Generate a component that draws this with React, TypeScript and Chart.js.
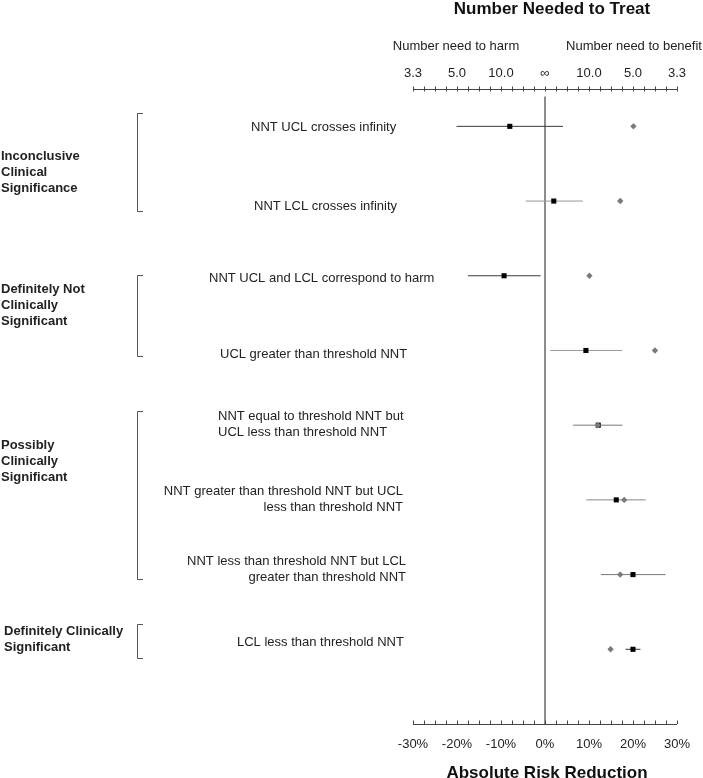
import React, { useEffect, useRef } from "react";
import { Chart, registerables } from "chart.js";

Chart.register(...registerables);

// ---------- data ----------
const rowLabels: string[][] = [
  ["NNT UCL crosses infinity"],
  ["NNT LCL crosses infinity"],
  ["NNT UCL and LCL correspond to harm"],
  ["UCL greater than threshold NNT"],
  ["NNT equal to threshold NNT but", "UCL less than threshold NNT"],
  ["NNT greater than threshold NNT but UCL", "less than threshold NNT"],
  ["NNT less than threshold NNT but LCL", "greater than threshold NNT"],
  ["LCL less than threshold NNT"],
];
const groupLabels: string[][] = [
  ["Inconclusive", "Clinical", "Significance"],
  ["Definitely Not", "Clinically", "Significant"],
  ["Possibly", "Clinically", "Significant"],
  ["Definitely Clinically", "Significant"],
];
const groupRows: number[][] = [
  [1, 2],
  [3, 4],
  [5, 7],
  [8, 8],
];
// absolute risk reduction (%) per row
const arrEstimate = [-8.0, 2.0, -9.3, 9.3, 12.1, 16.2, 20.0, 20.0];
const arrLower = [-20.1, -4.4, -17.5, 1.2, 6.4, 9.4, 12.7, 18.3];
const arrUpper = [4.1, 8.6, -1.0, 17.6, 17.6, 22.9, 27.4, 21.7];
const arrThreshold = [20.1, 17.1, 10.1, 25.0, 12.0, 18.0, 17.1, 14.9];

const arrTicks = [-30, -20, -10, 0, 10, 20, 30];
const arrTickLabels = ["-30%", "-20%", "-10%", "0%", "10%", "20%", "30%"];
const nntTickLabels = ["3.3", "5.0", "10.0", "\u221E", "10.0", "5.0", "3.3"];

// ---------- styles / layout ----------
const ciColors = ["#3a3a3a", "#9a9a9a", "#3a3a3a", "#9a9a9a", "#777777", "#888888", "#777777", "#3a3a3a"];
// per-row label layout: [x, align, dy of first line]
const rowLabelLayout: [number, CanvasTextAlign, number][] = [
  [251, "left", 1],
  [254, "left", 5],
  [209, "left", 3],
  [220, "left", 4],
  [218, "left", -9],
  [403, "right", -8],
  [406, "right", -13],
  [237, "left", -7],
];
const bracketOffsets: [number, number][] = [
  [-13, 10],
  [-1, 6],
  [-14, 4],
  [-25, 9],
];
const groupLabelDy = [-45, -61, -129, -18];
const FONT = "Arial, 'Liberation Sans', sans-serif";

const decorPlugin = {
  id: "decor",
  afterDraw(chart: any) {
    const ctx: CanvasRenderingContext2D = chart.ctx;
    const xs = chart.scales.x;
    const ys = chart.scales.y;
    const { top, bottom } = chart.chartArea;
    ctx.save();
    // minor ticks
    ctx.strokeStyle = "#444";
    ctx.lineWidth = 1;
    for (let v = -30; v <= 30.001; v += 2.5) {
      const px = Math.round(xs.getPixelForValue(v)) + 0.5;
      ctx.beginPath();
      ctx.moveTo(px, bottom);
      ctx.lineTo(px, bottom - 3.5);
      ctx.moveTo(px, top - 2.5);
      ctx.lineTo(px, top + 2.5);
      ctx.stroke();
    }
    // titles
    const cx = (xs.getPixelForValue(-30) + xs.getPixelForValue(30)) / 2;
    ctx.fillStyle = "#111";
    ctx.textAlign = "center";
    ctx.textBaseline = "alphabetic";
    ctx.font = "bold 17px " + FONT;
    ctx.fillText("Number Needed to Treat", cx + 7, 14);
    ctx.fillText("Absolute Risk Reduction", cx + 2, 778);
    ctx.font = "13px " + FONT;
    ctx.fillStyle = "#222";
    ctx.fillText("Number need to harm", 456, 50);
    ctx.fillText("Number need to benefit", 634, 50);

    // row labels
    ctx.textBaseline = "middle";
    rowLabels.forEach((lines, i) => {
      const [x, align, dy] = rowLabelLayout[i];
      const y0 = ys.getPixelForValue(i + 1) + dy;
      ctx.textAlign = align;
      lines.forEach((ln, j) => ctx.fillText(ln, x, y0 + j * 16));
    });

    // brackets and group labels
    ctx.strokeStyle = "#555";
    ctx.lineWidth = 1;
    groupRows.forEach((rows, g) => {
      const yTop = Math.round(ys.getPixelForValue(rows[0]) + bracketOffsets[g][0]) + 0.5;
      const yBot = Math.round(ys.getPixelForValue(rows[1]) + bracketOffsets[g][1]) + 0.5;
      ctx.beginPath();
      ctx.moveTo(143, yTop);
      ctx.lineTo(137.5, yTop);
      ctx.lineTo(137.5, yBot);
      ctx.lineTo(143, yBot);
      ctx.stroke();
      ctx.font = "bold 13px " + FONT;
      ctx.textAlign = "left";
      const gy = ys.getPixelForValue(rows[1]) + groupLabelDy[g];
      groupLabels[g].forEach((ln, j) => ctx.fillText(ln, g === 3 ? 4 : 1, gy + j * 16));
      ctx.font = "13px " + FONT;
    });
    ctx.restore();
  },
};

export default function App() {
  const ref = useRef<HTMLCanvasElement | null>(null);
  useEffect(() => {
    if (!ref.current) return;
    const rows = arrEstimate.map((_, i) => i + 1);
    const ciSets = rows.map((y, i) => ({
      type: "scatter" as const,
      data: [
        { x: arrLower[i], y },
        { x: arrUpper[i], y },
      ],
      showLine: true,
      borderColor: ciColors[i],
      borderWidth: 1,
      pointRadius: 0,
    }));
    const chart = new Chart(ref.current, {
      type: "scatter",
      data: {
        datasets: [
          {
            data: arrThreshold.map((x, i) => ({ x, y: rows[i] })),
            pointStyle: "rectRot",
            pointRadius: 3.2,
            backgroundColor: "#7a7a7a",
            borderColor: "#7a7a7a",
            borderWidth: 0,
          },
          {
            data: arrEstimate.map((x, i) => ({ x, y: rows[i] })),
            pointStyle: "rect",
            pointRadius: 3.6,
            backgroundColor: "#000",
            borderColor: "#000",
            borderWidth: 0,
          },
          ...ciSets,
          {
            data: [
              { x: 0, y: 0.6 },
              { x: 0, y: 9 },
            ],
            showLine: true,
            borderColor: "#8c8c8c",
            borderWidth: 2,
            pointRadius: 0,
          },
        ],
      } as any,
      plugins: [decorPlugin],
      options: {
        responsive: false,
        animation: false,
        events: [],
        layout: { padding: { left: 413, right: 24, top: 0, bottom: 0 } },
        plugins: { legend: { display: false }, tooltip: { enabled: false }, title: { display: false } },
        scales: {
          x: {
            type: "linear",
            position: "bottom",
            min: -30,
            max: 30,
            afterBuildTicks: (s: any) => {
              s.ticks = arrTicks.map((v) => ({ value: v }));
            },
            afterFit: (s: any) => {
              s.height = 54;
            },
            grid: { display: false, drawTicks: false },
            border: { display: true, color: "#444", width: 1 },
            ticks: {
              padding: 13,
              color: "#222",
              font: { family: FONT, size: 13 },
              maxRotation: 0,
              autoSkip: false,
              callback: (v: any) => arrTickLabels[arrTicks.indexOf(Number(v))] ?? "",
            },
          },
          x2: {
            type: "linear",
            position: "top",
            axis: "x",
            min: -30,
            max: 30,
            afterBuildTicks: (s: any) => {
              s.ticks = arrTicks.map((v) => ({ value: v }));
            },
            afterFit: (s: any) => {
              s.height = 89;
            },
            grid: { display: false, drawTicks: false },
            border: { display: true, color: "#444", width: 1 },
            ticks: {
              padding: 8,
              color: "#222",
              font: { family: FONT, size: 13 },
              maxRotation: 0,
              autoSkip: false,
              callback: (v: any) => nntTickLabels[arrTicks.indexOf(Number(v))] ?? "",
            },
          },
          y: {
            type: "linear",
            min: 0.5,
            max: 9,
            reverse: true,
            display: false,
          },
        },
      } as any,
    });
    return () => chart.destroy();
  }, []);
  return (
    <div style={{ position: "absolute", left: 0, top: 0, width: 703, height: 778, background: "#fff" }}>
      <canvas ref={ref} width={703} height={778} />
    </div>
  );
}
